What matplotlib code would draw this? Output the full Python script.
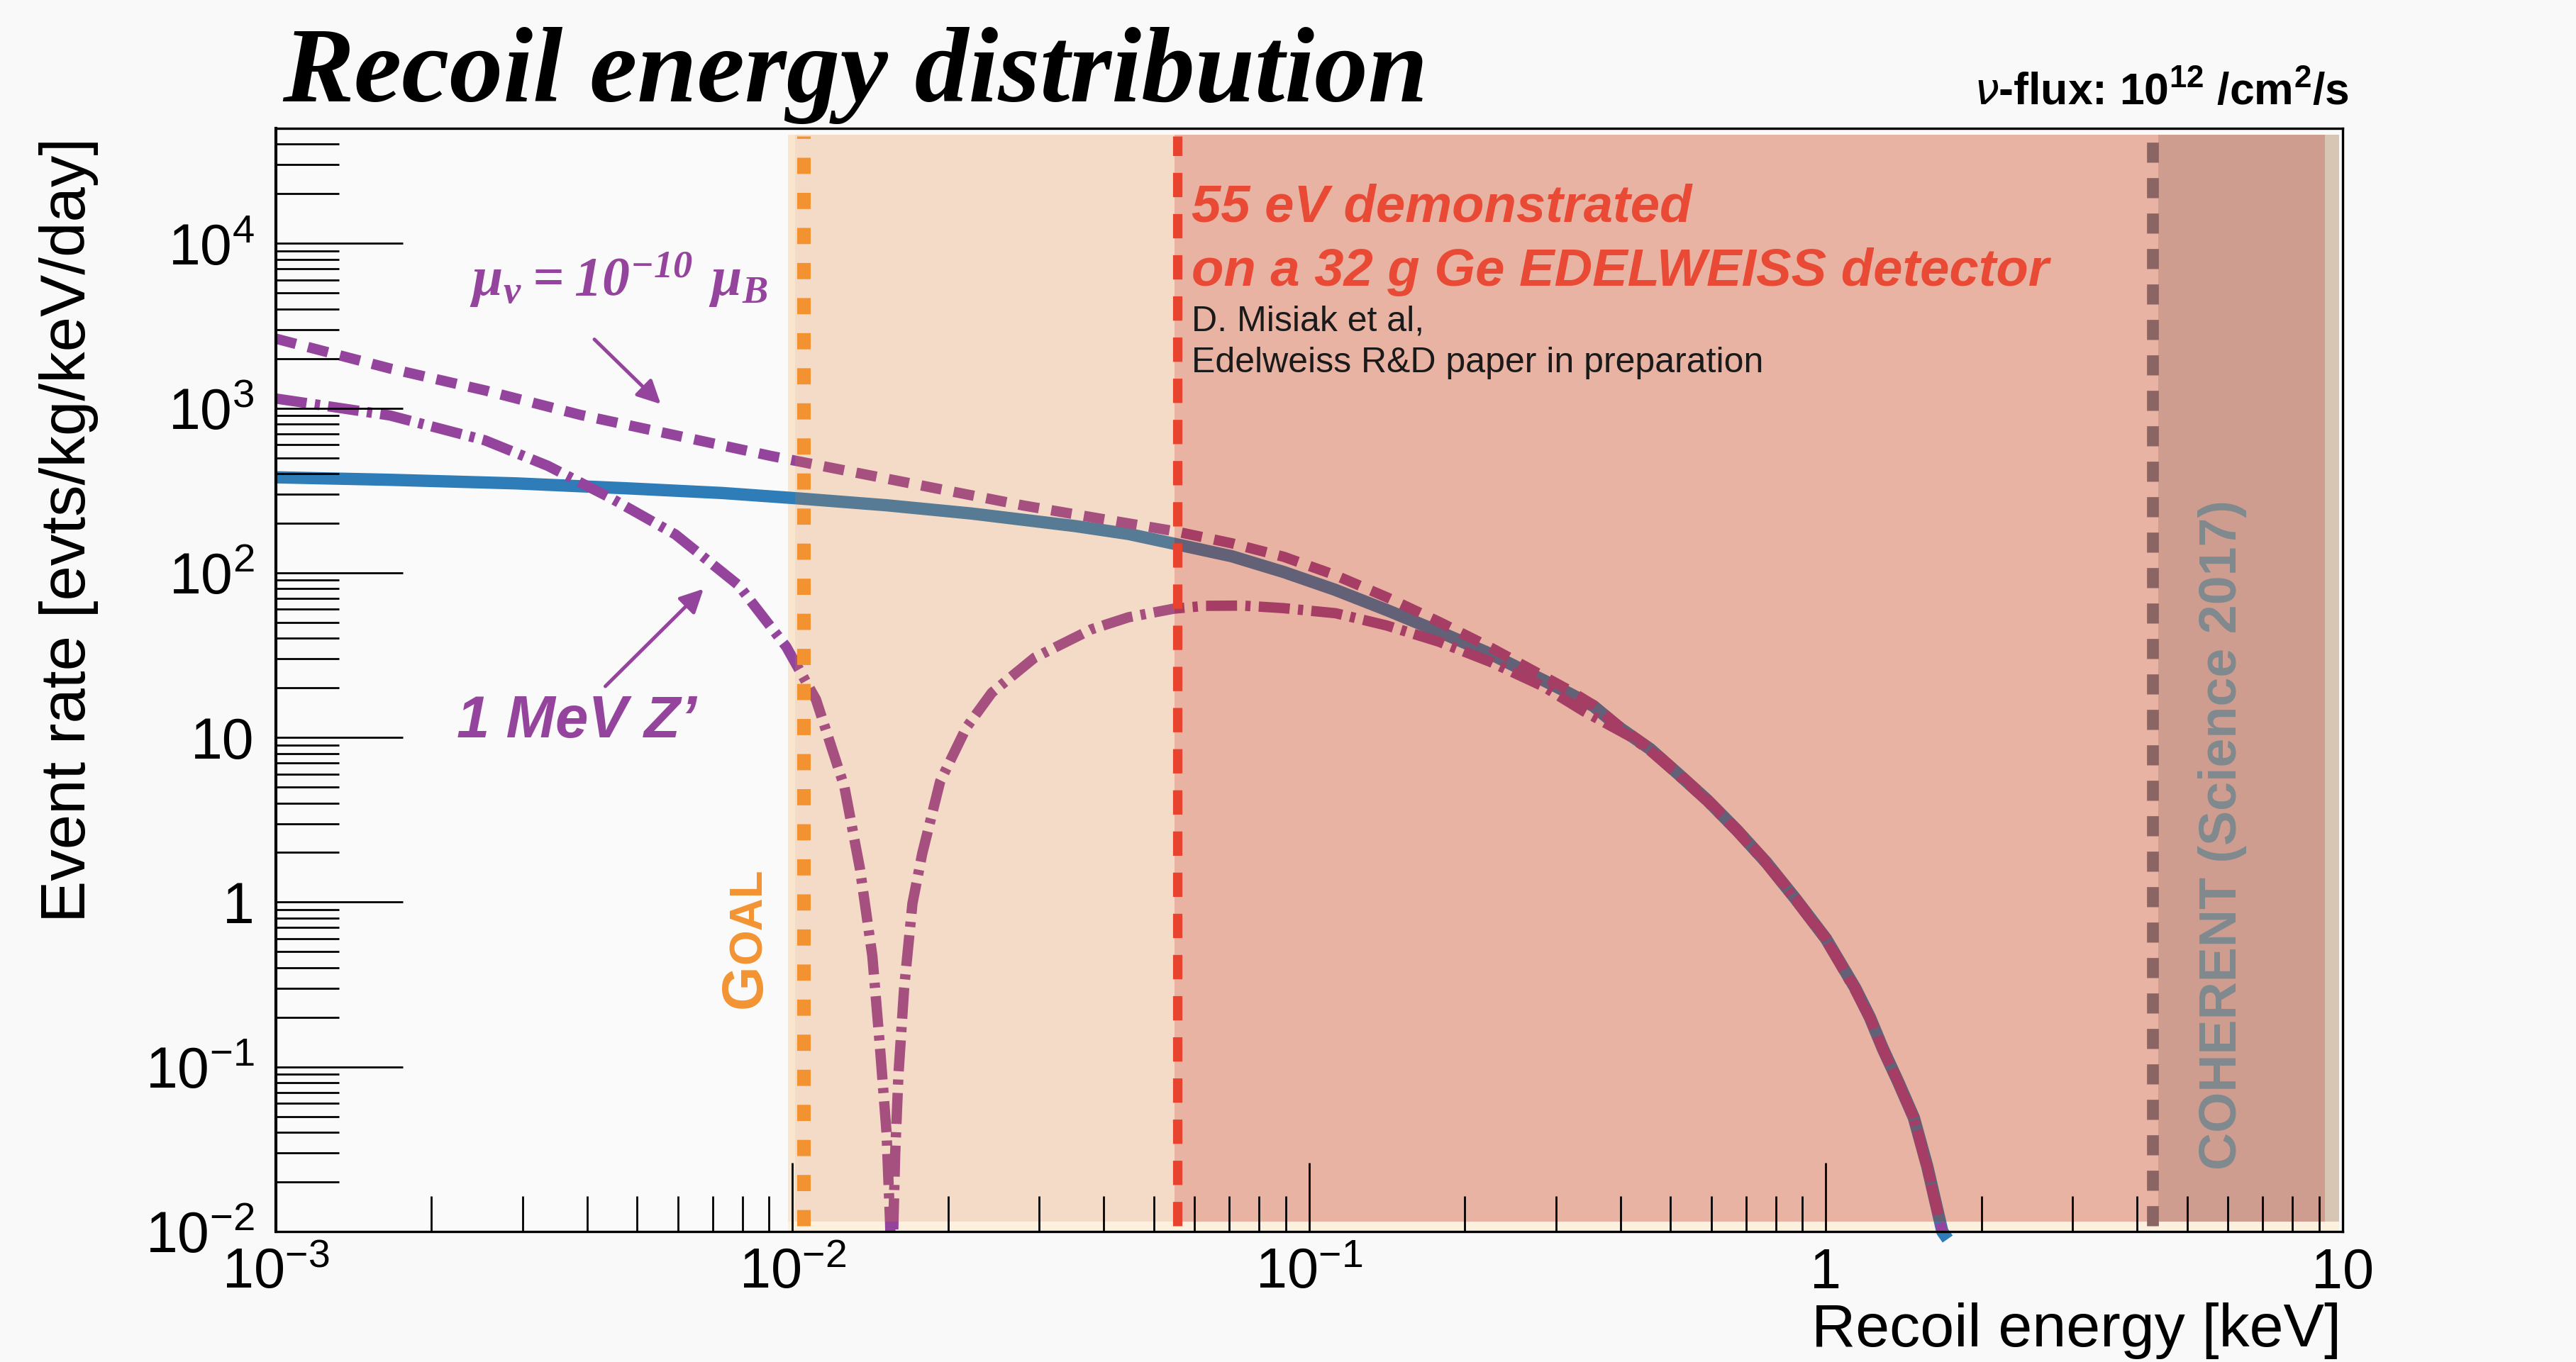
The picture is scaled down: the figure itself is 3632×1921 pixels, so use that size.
import numpy as np
import matplotlib
matplotlib.use('Agg')
import matplotlib.pyplot as plt
from matplotlib.ticker import LogLocator, NullFormatter

plt.rcParams['font.family'] = ['Liberation Sans', 'DejaVu Sans']

# standard model CEvNS rate (blue)
energy_sm = [0.001, 0.00166, 0.00292, 0.00485, 0.00732, 0.0104, 0.0152, 0.0222, 0.0353, 0.0447,
             0.0548, 0.0708, 0.0893, 0.112, 0.142, 0.178, 0.225, 0.306, 0.355, 0.398,
             0.457, 0.518, 0.589, 0.673, 0.767, 0.875, 1.0, 1.14, 1.216, 1.29,
             1.38, 1.48, 1.57, 1.68, 1.72]
rate_sm = [380, 367, 349, 325, 305, 282, 257, 229, 192, 172,
           150, 126, 101, 79, 59, 44, 32, 19.8, 15.5, 11.5,
           8.5, 6.0, 4.17, 2.73, 1.74, 1.04, 0.60, 0.30, 0.20, 0.128,
           0.081, 0.049, 0.025, 0.010, 0.009]

# magnetic moment mu_nu = 1e-10 mu_B (dashed)
energy_mag = [0.001, 0.00166, 0.00254, 0.00388, 0.00593, 0.00906, 0.0152, 0.028, 0.0398, 0.0548,
              0.0708, 0.0893, 0.112, 0.142, 0.178, 0.225, 0.319, 0.355, 0.398, 0.457,
              0.518, 0.589, 0.673, 0.767, 0.875, 1.0, 1.14, 1.216, 1.29, 1.38,
              1.48, 1.57, 1.68]
rate_mag = [2640, 1742, 1280, 910, 684, 513, 373, 256, 212, 179,
            151, 125, 97, 70.5, 50.5, 35, 19.3, 15.7, 11.7, 8.6,
            6.1, 4.22, 2.77, 1.76, 1.05, 0.605, 0.30, 0.20, 0.128, 0.081,
            0.049, 0.025, 0.010]

# 1 MeV Z' (dash-dot)
energy_zp = [0.001, 0.00166, 0.00254, 0.00336, 0.00447, 0.00593, 0.00786, 0.00972, 0.0111, 0.0126,
             0.0135, 0.01427, 0.01475, 0.0152, 0.01545, 0.01556, 0.01567, 0.0158, 0.01603, 0.01644,
             0.01706, 0.01782, 0.0193, 0.0217, 0.0243, 0.0294, 0.0379, 0.0447, 0.0548, 0.0631,
             0.0743, 0.0891, 0.1125, 0.141, 0.178, 0.224, 0.284, 0.339, 0.419, 0.457,
             0.518, 0.589, 0.673, 0.767, 0.875, 1.0, 1.14, 1.216, 1.29, 1.38,
             1.48, 1.57, 1.68]
rate_zp = [1143, 903, 637, 446, 282, 171, 84, 35.6, 17, 5.0,
           1.6, 0.47, 0.136, 0.040, 0.011, 0.004, 0.011, 0.030, 0.090, 0.30,
           0.98, 1.97, 5.4, 11.5, 18.7, 30.5, 45.4, 53.7, 60.6, 63,
           63.2, 61, 56.8, 47.9, 38.2, 28.8, 20.4, 14.5, 10.1, 8.3,
           5.9, 4.1, 2.68, 1.71, 1.02, 0.59, 0.29, 0.197, 0.126, 0.080,
           0.048, 0.024, 0.0098]

# thresholds / regions in keV
goal_threshold = 0.0105
demo_threshold = 0.0555
coherent_threshold = 4.29
goal_band = (0.0101, 0.0548)
demo_band = (0.0548, 9.25)
coherent_band = (4.4, 9.25)
edge_band = (9.25, 9.84)

x_ticks = [1e-3, 1e-2, 1e-1, 1, 10]
x_tick_labels = [r'$\mathregular{10^{-3}}$', r'$\mathregular{10^{-2}}$', r'$\mathregular{10^{-1}}$', '1', '10']
y_ticks = [1e-2, 1e-1, 1, 10, 1e2, 1e3, 1e4]
y_tick_labels = [r'$\mathregular{10^{-2}}$', r'$\mathregular{10^{-1}}$', '1', '10',
                 r'$\mathregular{10^{2}}$', r'$\mathregular{10^{3}}$', r'$\mathregular{10^{4}}$']

PURPLE = '#94449c'

fig = plt.figure(figsize=(36.32, 19.21), dpi=100, facecolor='#f9f9f9')
ax = fig.add_axes([0.1071, 0.0958, 0.8023, 0.8100])
ax.set_facecolor('#fafafa')
ax.set_xscale('log')
ax.set_yscale('log')
ax.set_xlim(1e-3, 10)
ax.set_ylim(1e-2, 5e4)

# curves
ax.plot(energy_sm, rate_sm, color='#2e7cb8', lw=12.5, solid_capstyle='butt',
        solid_joinstyle='round', zorder=2, clip_on=False)
ax.plot(energy_zp, rate_zp, color=PURPLE, lw=10.5, ls=(0, (3.0, 0.8, 0.5, 0.8)),
        dash_capstyle='butt', zorder=2.1)
ax.plot(energy_mag, rate_mag, color=PURPLE, lw=10.5, ls=(0, (2.0, 1.2)),
        dash_capstyle='butt', zorder=2.2)

# shaded regions, drawn over the curves so they tint them
band_lo, band_hi = 0.009, 0.994
ax.axvspan(goal_band[0] * 0.97, edge_band[1], ymin=0, ymax=band_lo, color='#fcf1df', lw=0, zorder=1.5)
ax.axvspan(goal_band[0] * 0.97, goal_band[0], ymin=band_lo, ymax=band_hi, color='#f8e6cf', lw=0, zorder=1.5)
ax.axvspan(*goal_band, ymin=band_lo, ymax=band_hi, color='#e47821', alpha=0.23, lw=0, zorder=3)
ax.axvspan(*demo_band, ymin=band_lo, ymax=band_hi, color='#c83000', alpha=0.35, lw=0, zorder=3)
ax.axvspan(*coherent_band, ymin=band_lo, ymax=band_hi, color='#785050', alpha=0.22, lw=0, zorder=3.1)
ax.axvspan(*edge_band, ymin=band_lo, ymax=band_hi, color='#d8c6b4', lw=0, zorder=3)

ax.axvline(goal_threshold, ymin=0.005, ymax=0.993, color='#f39230', lw=13.7,
           ls=(0, (1.2, 1.4)), dash_capstyle='butt', zorder=4)
ax.axvline(demo_threshold, ymin=0.005, ymax=0.993, color='#e8432f', lw=9.5,
           ls=(0, (2.6, 1.8)), dash_capstyle='butt', zorder=4)
ax.axvline(coherent_threshold, ymin=0.005, ymax=0.993, color='#8b6464', lw=12,
           ls=(0, (1.7, 1.3)), dash_capstyle='butt', zorder=4)

# axes cosmetics (ROOT like)
ax.set_xticks(x_ticks)
ax.set_xticklabels(x_tick_labels)
ax.set_yticks(y_ticks)
ax.set_yticklabels(y_tick_labels)
ax.xaxis.set_minor_locator(LogLocator(base=10, subs=np.arange(2, 10), numticks=30))
ax.yaxis.set_minor_locator(LogLocator(base=10, subs=np.arange(2, 10), numticks=30))
ax.xaxis.set_minor_formatter(NullFormatter())
ax.yaxis.set_minor_formatter(NullFormatter())
ax.tick_params(axis='x', which='major', direction='in', length=70, width=2,
               bottom=True, top=False, labelsize=57, pad=16)
ax.tick_params(axis='x', which='minor', direction='in', length=36, width=2, bottom=True, top=False)
ax.tick_params(axis='y', which='major', direction='in', length=129, width=2,
               left=True, right=False, labelsize=58, pad=22)
ax.tick_params(axis='y', which='minor', direction='in', length=64, width=2, left=True, right=False)
ax.xaxis.set_zorder(5)
ax.yaxis.set_zorder(5)
for side, spine in ax.spines.items():
    spine.set_linewidth(3 if side == 'left' else 2.4)
    spine.set_zorder(6)

# annotations
ax.text(0.0937, 0.848, r'$\mathregular{\mu_{\nu} = 10^{-10}\ \mu_{B}}$', transform=ax.transAxes,
        family='Liberation Serif', weight='bold', style='italic', fontsize=56, color=PURPLE,
        ha='left', va='baseline', zorder=5)
ax.annotate('', xy=(0.1862, 0.750), xytext=(0.1541, 0.8087), xycoords='axes fraction',
            arrowprops=dict(arrowstyle='-|>', color=PURPLE, lw=3.6, mutation_scale=50,
                            shrinkA=0, shrinkB=0), zorder=5)
ax.text(0.0875, 0.448, '1 MeV Z\u2019', transform=ax.transAxes, weight='bold', style='italic',
        fontsize=60, color=PURPLE, ha='left', va='baseline', zorder=5)
ax.annotate('', xy=(0.2069, 0.5825), xytext=(0.1594, 0.4942), xycoords='axes fraction',
            arrowprops=dict(arrowstyle='-|>', color=PURPLE, lw=3.6, mutation_scale=50,
                            shrinkA=0, shrinkB=0), zorder=5)

ax.text(0.2347, 0.2024, 'G', transform=ax.transAxes, rotation=90, rotation_mode='anchor',
        ha='left', va='baseline', fontsize=58, weight='bold', color='#f39433', zorder=5)
ax.text(0.2347, 0.2428, 'OAL', transform=ax.transAxes, rotation=90, rotation_mode='anchor',
        ha='left', va='baseline', fontsize=46, weight='bold', color='#f39433', zorder=5)

ax.text(0.443, 0.9152, '55 eV demonstrated', transform=ax.transAxes, fontsize=53.5, weight='bold',
        style='italic', color='#e84a35', ha='left', va='baseline', zorder=5)
ax.text(0.443, 0.8573, 'on a 32 g Ge EDELWEISS detector', transform=ax.transAxes, fontsize=53.5,
        weight='bold', style='italic', color='#e84a35', ha='left', va='baseline', zorder=5)
ax.text(0.443, 0.8162, 'D. Misiak et al,', transform=ax.transAxes, fontsize=36,
        color='#1a1a1a', ha='left', va='baseline', zorder=5)
ax.text(0.443, 0.7789, 'Edelweiss R&D paper in preparation', transform=ax.transAxes, fontsize=36,
        color='#1a1a1a', ha='left', va='baseline', zorder=5)

ax.text(0.942, 0.3593, 'COHERENT (Science 2017)', transform=ax.transAxes, rotation=90,
        ha='center', va='center', fontsize=53, weight='bold', color='#7f898e', zorder=5)

fig.text(0.1096, 0.9256, 'Recoil energy distribution', family='Liberation Serif', weight='bold',
         style='italic', fontsize=109, ha='left', va='baseline')
fig.text(0.9119, 0.923, r'$\nu$-flux: 10$\mathregular{^{12}}$ /cm$\mathregular{^{2}}$/s',
         weight='bold', fontsize=45, ha='right', va='baseline')
fig.text(0.0267, 0.611, 'Event rate [evts/kg/keV/day]', rotation=90, ha='center', va='center',
         fontsize=64)
fig.text(0.9089, 0.0112, 'Recoil energy [keV]', ha='right', va='baseline', fontsize=62)

fig.savefig('out.png', dpi=100, facecolor=fig.get_facecolor())
